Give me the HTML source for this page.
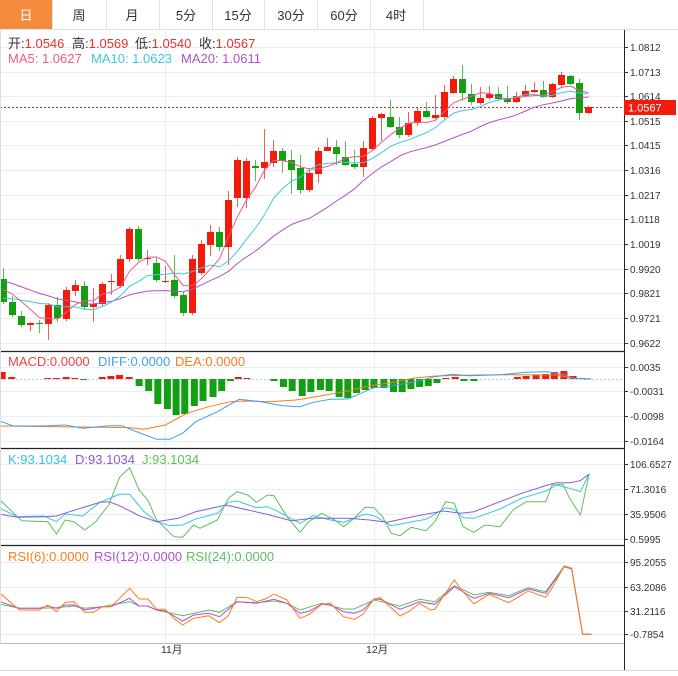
<!DOCTYPE html>
<html><head><meta charset="utf-8"><style>
body{margin:0;background:#fff;width:678px;height:671px;overflow:hidden;font-family:"Liberation Sans","Noto Sans CJK SC",sans-serif}
svg text{font-family:"Liberation Sans","Noto Sans CJK SC",sans-serif}
</style></head><body>
<svg id="s" width="678" height="671" xmlns="http://www.w3.org/2000/svg">
<rect x="0" y="0" width="678" height="671" fill="#fff"/>
<rect x="0" y="0" width="52" height="30" fill="#f28b3c"/>
<g stroke="#e2e2e2" stroke-width="1">
<line x1="0" y1="29.5" x2="678" y2="29.5"/>
<line x1="52.5" y1="0" x2="52.5" y2="30"/><line x1="106.5" y1="0" x2="106.5" y2="30"/>
<line x1="159.5" y1="0" x2="159.5" y2="30"/><line x1="212.5" y1="0" x2="212.5" y2="30"/>
<line x1="264.5" y1="0" x2="264.5" y2="30"/><line x1="317.5" y1="0" x2="317.5" y2="30"/>
<line x1="370.5" y1="0" x2="370.5" y2="30"/><line x1="423.5" y1="0" x2="423.5" y2="30"/>
</g>
<g font-size="13" text-anchor="middle" fill="#333">
<text x="26" y="20" fill="#fff">日</text><text x="79" y="20">周</text><text x="132" y="20">月</text>
<text x="186" y="20">5分</text><text x="238" y="20">15分</text><text x="291" y="20">30分</text>
<text x="344" y="20">60分</text><text x="396" y="20">4时</text>
</g>
<g id="grid" stroke="#e8eef2" stroke-width="1"></g>
<g id="plot"></g>
<g stroke="#222" stroke-width="1.2">
<line x1="0" y1="351.5" x2="624" y2="351.5"/>
<line x1="0" y1="448.5" x2="624" y2="448.5"/>
<line x1="0" y1="545.5" x2="624" y2="545.5"/>
</g>
<line x1="0" y1="643.5" x2="624" y2="643.5" stroke="#bbb"/>
<line x1="624.5" y1="30" x2="624.5" y2="671" stroke="#222"/>
<line x1="0.5" y1="30" x2="0.5" y2="643" stroke="#ddd"/>
<line x1="0" y1="670.5" x2="678" y2="670.5" stroke="#ddd"/>
<g font-size="13">
<text y="48" fill="#333"><tspan x="8">开:<tspan fill="#e8322a">1.0546</tspan></tspan><tspan x="72">高:<tspan fill="#e8322a">1.0569</tspan></tspan><tspan x="135">低:<tspan fill="#e8322a">1.0540</tspan></tspan><tspan x="199">收:<tspan fill="#e8322a">1.0567</tspan></tspan></text>
<text y="63"><tspan x="8" fill="#f0588a">MA5: 1.0627</tspan><tspan x="91" fill="#3cc8e0">MA10: 1.0623</tspan><tspan x="181" fill="#b450c8">MA20: 1.0611</tspan></text>
<text y="366"><tspan x="8" fill="#f04040">MACD:0.0000</tspan><tspan x="98" fill="#3ea0f0">DIFF:0.0000</tspan><tspan x="175" fill="#ff7a1a">DEA:0.0000</tspan></text>
<text y="464"><tspan x="8" fill="#36c0e0">K:93.1034</tspan><tspan x="75" fill="#8a5ad8">D:93.1034</tspan><tspan x="142" fill="#5cbf5c">J:93.1034</tspan></text>
<text y="561"><tspan x="8" fill="#ff7a1a">RSI(6):0.0000</tspan><tspan x="94" fill="#b450d0">RSI(12):0.0000</tspan><tspan x="186" fill="#5cbf5c">RSI(24):0.0000</tspan></text>
</g>
<g font-size="10.5" fill="#333">
<text x="161" y="653">11月</text><text x="366" y="653">12月</text>
</g>
<g id="axis" font-size="10" fill="#333"></g>
<rect x="624" y="100" width="52" height="15" fill="#f21b0c"/>
<text x="628" y="111.5" font-size="11" fill="#fff">1.0567</text>
</svg>
<script>
var NS="http://www.w3.org/2000/svg",plot=document.getElementById('plot'),grid=document.getElementById('grid'),axis=document.getElementById('axis');
function el(p,t,a){var e=document.createElementNS(NS,t);for(var k in a)e.setAttribute(k,a[k]);p.appendChild(e);return e;}
function tick(y,label,gridOn){if(gridOn)el(grid,'line',{x1:0,y1:y+.5,x2:624,y2:y+.5});el(axis,'line',{x1:624,y1:y+.5,x2:628,y2:y+.5,stroke:'#333'});var t=el(axis,'text',{x:630,y:y+4});t.textContent=label;}
[[47,'1.0812'],[72,'1.0713'],[96,'1.0614'],[121,'1.0515'],[145,'1.0415'],[170,'1.0316'],[195,'1.0217'],[219,'1.0118'],[244,'1.0019'],[269,'0.9920'],[293,'0.9821'],[318,'0.9721'],[343,'0.9622']].forEach(function(a){tick(a[0],a[1],true)});
[[367,'0.0035'],[391,'-0.0031'],[416,'-0.0098'],[441,'-0.0164']].forEach(function(a){tick(a[0],a[1],true)});
[[464,'106.6527'],[489,'71.3016'],[514,'35.9506'],[539,'0.5995']].forEach(function(a){tick(a[0],a[1],true)});
[[562,'95.2055'],[587,'63.2086'],[611,'31.2116'],[634,'-0.7854']].forEach(function(a){tick(a[0],a[1],true)});
el(grid,'line',{x1:165.5,y1:30,x2:165.5,y2:643});el(grid,'line',{x1:374.5,y1:30,x2:374.5,y2:643});
el(plot,'line',{x1:0,y1:107.5,x2:624,y2:107.5,stroke:'#e02020','stroke-dasharray':'2,2'});
el(plot,'line',{x1:0,y1:379.5,x2:624,y2:379.5,stroke:'#9fd8f0','stroke-dasharray':'2,2'});
var R='#f21b0c',G='#12a012';
var C=[[0,279,302,268,304],[0,302,315,296,317],[0,316,325,311,327],[1,323,325,322,331],[0,323,324,320,333],[1,305,324,303,340],[0,305,318,297,322],[1,290,319,287,321],[1,285,291,280,296],[0,286,307,281,309],[1,304,307,288,322],[1,284,304,282,306],[1,281,282,274,295],[1,259,286,255,288],[1,229,259,227,262],[0,229,259,226,261],[1,258,259,250,265],[0,263,280,258,282],[1,281,282,266,283],[0,280,296,255,298],[0,295,313,292,316],[1,259,313,255,315],[1,244,273,240,275],[1,232,245,225,256],[0,232,247,227,251],[1,200,247,191,265],[1,160,198,157,207],[1,161,198,158,208],[0,166,168,160,181],[1,162,168,129,179],[1,151,163,140,167],[0,151,161,148,173],[0,160,170,150,194],[0,168,190,155,194],[1,173,190,168,192],[1,151,174,147,183],[1,147,151,138,150],[0,147,154,140,165],[0,157,165,141,166],[0,164,167,150,169],[1,148,167,141,177],[1,118,149,116,151],[1,114,118,113,141],[0,117,127,100,128],[0,127,135,117,138],[1,123,135,112,137],[1,111,123,107,126],[0,111,117,102,118],[1,115,118,95,119],[1,92,117,85,119],[1,79,93,76,94],[0,79,93,65,101],[0,94,102,84,105],[1,98,103,87,105],[1,94,98,86,100],[0,94,99,87,101],[0,98,102,86,104],[1,96,102,92,103],[1,91,96,85,97],[1,90,92,82,93],[0,90,97,81,98],[1,84,97,83,98],[1,75,85,72,87],[0,76,84,75,85],[0,83,113,79,120],[1,107,113,106,114]];
var closes=[];
C.forEach(function(c,i){var x=3+9*i,col=c[0]?R:G;
 el(plot,'line',{x1:x+.5,y1:c[3],x2:x+.5,y2:c[4],stroke:col,'stroke-width':1,opacity:.7});
 el(plot,'rect',{x:x-3,y:c[1],width:7,height:Math.max(1,c[2]-c[1]),fill:col});
 closes.push(c[0]?c[1]:c[2]);});
var pad=[];for(var i=0;i<10;i++)pad.push(258);pad.push(310,310,310,310,305,300,292,288,284,282);
var all=pad.concat(closes);
function ma(n,col){var pts=[];for(var i=0;i<closes.length;i++){var j=i+pad.length,s=0;for(var k=0;k<n;k++)s+=all[j-k];pts.push((3+9*i+.5)+','+(s/n).toFixed(1));}
 el(plot,'polyline',{points:pts.join(' '),fill:'none',stroke:col,'stroke-width':1});}
ma(20,'#b450c8');ma(10,'#3cc8e0');ma(5,'#f0588a');
var B=[[5,7],[27,2],[110,1],[130,1],[152,2],[172,1],[192,-1],[235,2],[255,3],[275,4],[297,2],[320,-7],[342,-12],[363,-25],[385,-30],[405,-36],[425,-35],[447,-27],[467,-22],[490,-18],[510,-12],[530,-2],[548,2],[568,1],[630,-2],[652,-8],[672,-12],[695,-17],[715,-13],[737,-11],[757,-12],[780,-18],[800,-19],[820,-14],[840,-11],[860,-9],[883,-9],[905,-13],[925,-13],[945,-10],[965,-8],[985,-7],[1005,-4],[1025,1],[1047,2],[1067,-2],[1090,-2],[1190,2],[1210,3],[1233,4],[1255,5],[1275,7],[1297,8],[1318,3]];
B.forEach(function(b){var x=b[0]/2.3,h=b[1];el(plot,'rect',{x:x-3.5,y:h>0?379-h:379,width:7,height:Math.abs(h),fill:h>0?R:G});});
function line(pts,base,col){el(plot,'polyline',{points:pts.map(function(p){return (p[0]/2.3).toFixed(1)+','+(base+p[1]/3).toFixed(1)}).join(' '),fill:'none',stroke:col,'stroke-width':1});}
line([[0,243],[300,248],[330,253],[380,240],[430,205],[480,185],[530,170],[560,168],[620,170],[680,165],[740,152],[800,138],[850,122],[900,113],[950,100],[1000,93],[1100,90],[1200,89],[1280,90],[1320,100],[1360,102]],345,'#ff7a1a');
line([[0,228],[30,243],[100,243],[150,240],[190,250],[250,242],[280,242],[310,258],[360,283],[390,283],[420,265],[450,230],[500,200],[550,163],[600,170],[650,182],[690,185],[720,172],[760,163],[800,162],[830,145],[860,128],[900,122],[950,112],[1000,95],[1040,88],[1080,92],[1150,89],[1210,82],[1260,80],[1300,90],[1320,100],[1360,102]],345,'#3ea0f0');
line([[0,165],[40,215],[50,227],[110,230],[130,267],[150,225],[170,230],[195,255],[220,230],[250,180],[275,97],[298,68],[320,135],[340,165],[360,225],[400,275],[420,277],[445,240],[460,250],[500,225],[525,160],[545,140],[570,150],[590,172],[615,150],[630,152],[660,215],[690,262],[710,230],[740,205],[770,225],[790,245],[810,225],[840,187],[860,188],[880,215],[900,265],[920,272],[945,247],[980,257],[1000,230],[1025,170],[1045,175],[1065,245],[1090,262],[1115,240],[1150,245],[1180,195],[1210,170],[1255,170],[1270,120],[1295,118],[1310,160],[1335,210],[1355,87]],445,'#5cbf5c');
line([[0,190],[40,215],[100,213],[130,230],[150,207],[190,213],[230,172],[275,148],[298,148],[330,198],[360,230],[390,242],[420,240],[450,222],[500,205],[525,172],[545,168],[590,188],[615,185],[640,200],[690,235],[720,212],[760,225],[790,232],[810,222],[840,207],[860,212],[900,242],[930,235],[980,223],[1025,188],[1045,193],[1065,218],[1090,220],[1150,192],[1200,160],[1255,138],[1280,120],[1310,130],[1335,140],[1355,87]],445,'#36c8e0');
line([[0,208],[40,217],[100,215],[130,213],[160,200],[230,172],[250,170],[275,182],[320,212],[360,230],[410,220],[450,200],[520,180],[560,192],[620,210],[670,227],[720,220],[800,220],[850,225],[890,232],[960,212],[1020,198],[1060,205],[1090,200],[1170,160],[1200,145],[1260,120],[1280,113],[1310,113],[1335,107],[1355,87]],445,'#8a5ad8');
line([[0,178],[45,190],[90,190],[130,188],[170,183],[195,190],[235,185],[298,170],[320,183],[340,183],[360,195],[420,212],[480,195],[505,202],[545,170],[590,173],[630,168],[660,175],[690,195],[740,175],[790,192],[815,192],[860,165],[920,183],[965,163],[1000,170],[1045,122],[1090,150],[1125,142],[1170,152],[1215,128],[1255,140],[1298,63],[1315,70],[1340,268],[1360,268]],545,'#5cbf5c');
line([[0,170],[45,190],[90,190],[110,183],[130,190],[150,180],[170,180],[195,195],[235,185],[255,185],[298,160],[320,183],[340,183],[360,195],[380,198],[420,228],[445,210],[480,205],[505,215],[545,170],[590,175],[630,163],[660,175],[690,205],[712,198],[740,178],[760,180],[790,200],[815,205],[835,195],[860,163],[875,163],[920,193],[965,170],[1000,178],[1045,125],[1090,160],[1125,145],[1170,158],[1215,132],[1255,145],[1298,65],[1315,72],[1340,268],[1360,268]],545,'#b450d0');
line([[0,145],[45,195],[90,195],[110,180],[130,200],[150,172],[170,170],[195,202],[215,202],[235,185],[255,185],[275,160],[298,130],[320,162],[340,162],[360,193],[380,193],[400,220],[420,240],[445,220],[480,212],[505,233],[525,212],[545,157],[570,158],[590,170],[610,162],[630,147],[660,165],[690,220],[712,208],[740,178],[760,175],[790,215],[815,223],[835,208],[860,162],[875,158],[920,213],[940,200],[965,175],[990,195],[1000,193],[1045,105],[1065,140],[1090,177],[1125,148],[1170,173],[1215,138],[1255,157],[1270,128],[1298,63],[1315,70],[1340,268],[1360,268]],545,'#ff7a1a');
</script>
</body></html>
